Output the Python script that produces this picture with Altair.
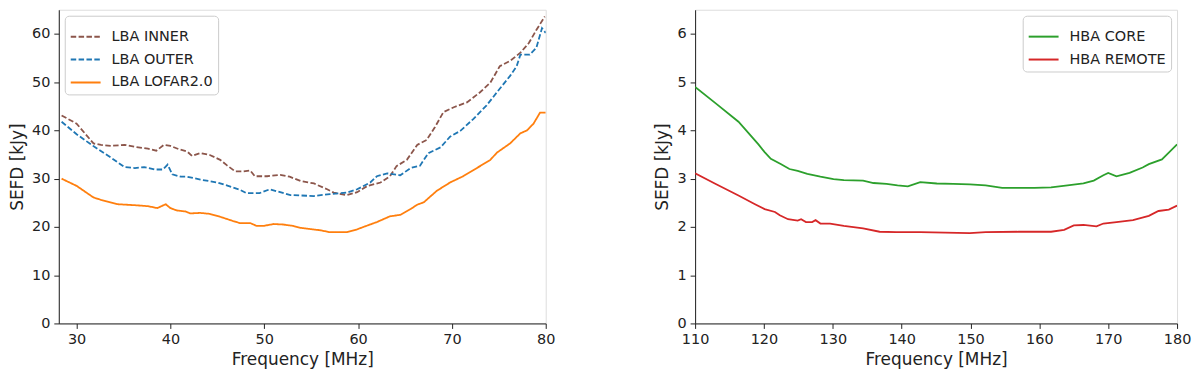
import altair as alt
import pandas as pd

# ---- LBA data ----
inner_f = [28.4, 30.0, 31.8, 32.6, 33.7, 35.1, 36.2, 37.6, 38.5, 39.3, 40.0, 40.9, 41.8, 42.3, 43.2, 44.2,
           45.3, 46.0, 46.9, 47.8, 48.5, 49.0, 50.3, 51.7, 52.7, 53.9, 55.3, 56.7, 57.4, 58.8, 59.9, 61.0,
           62.4, 63.4, 64.1, 65.2, 66.3, 67.3, 68.2, 69.1, 70.2, 71.6, 73.0, 74.1, 75.1, 76.2, 77.3, 78.2,
           79.0, 79.9]
inner_v = [43.1, 41.4, 37.3, 37.0, 36.8, 37.0, 36.6, 36.2, 35.8, 37.0, 36.8, 36.1, 35.6, 34.7, 35.3, 34.9,
           33.9, 32.8, 31.5, 31.5, 31.7, 30.5, 30.5, 30.8, 30.4, 29.5, 29.0, 27.8, 27.1, 26.6, 27.2, 28.5,
           29.2, 30.5, 32.6, 33.9, 37.0, 38.0, 40.7, 43.8, 44.8, 45.8, 47.9, 49.9, 53.3, 54.4, 56.1, 58.1,
           60.8, 63.6]

outer_f = [28.4, 30.0, 31.9, 33.7, 35.1, 36.2, 37.2, 38.3, 39.2, 39.7, 40.2, 41.1, 41.8, 43.2, 45.0, 46.0,
           47.4, 48.1, 49.5, 50.6, 51.7, 52.8, 55.3, 57.0, 58.8, 59.9, 61.3, 62.0, 63.1, 64.5, 65.6, 66.6,
           67.5, 68.8, 69.8, 70.9, 72.3, 73.7, 74.8, 76.2, 76.9, 77.3, 78.3, 79.0, 79.6, 80.0]
outer_v = [41.8, 39.2, 36.6, 34.3, 32.4, 32.2, 32.4, 31.9, 31.9, 32.9, 30.9, 30.4, 30.4, 29.8, 29.2, 28.6,
           27.7, 27.0, 27.0, 27.8, 27.2, 26.6, 26.4, 26.8, 27.1, 27.8, 29.2, 30.5, 31.1, 30.7, 32.2, 32.7,
           35.3, 36.5, 38.7, 39.9, 42.4, 45.2, 47.9, 51.3, 53.3, 55.7, 55.7, 57.1, 61.2, 60.2]

l2_f = [28.4, 30.0, 31.8, 32.6, 34.4, 36.2, 37.6, 38.6, 39.5, 40.0, 40.7, 41.6, 42.1, 43.2, 44.2, 45.3,
        46.7, 47.4, 48.5, 49.2, 49.9, 51.0, 52.0, 53.1, 53.9, 56.0, 57.0, 58.8, 59.9, 61.0, 62.0, 63.4,
        64.5, 65.6, 66.3, 67.0, 68.4, 69.8, 71.2, 73.0, 74.1, 74.8, 76.2, 77.3, 78.0, 78.7, 79.4, 80.0]
l2_v = [30.0, 28.5, 26.1, 25.6, 24.7, 24.5, 24.3, 23.9, 24.7, 23.9, 23.4, 23.2, 22.8, 22.9, 22.7, 22.1,
        21.2, 20.8, 20.8, 20.2, 20.2, 20.6, 20.5, 20.2, 19.8, 19.3, 18.9, 18.9, 19.5, 20.3, 21.0, 22.2,
        22.5, 23.7, 24.6, 25.1, 27.5, 29.2, 30.5, 32.6, 33.9, 35.4, 37.3, 39.4, 40.0, 41.4, 43.7, 43.7]

# ---- HBA data ----
core_f = [110.0, 113.0, 116.3, 119.2, 120.1, 121.0, 122.5, 123.7, 124.9, 126.3, 128.2, 130.1, 131.6, 134.4,
          135.9, 137.8, 139.4, 140.9, 142.7, 145.1, 147.5, 149.9, 152.2, 154.6, 157.0, 159.3, 161.7, 164.1,
          166.4, 167.9, 169.3, 170.0, 171.2, 173.1, 175.0, 175.9, 177.8, 178.8, 180.0]
core_v = [4.90, 4.56, 4.18, 3.71, 3.55, 3.41, 3.30, 3.20, 3.16, 3.10, 3.04, 2.99, 2.97, 2.96,
          2.91, 2.89, 2.86, 2.84, 2.93, 2.90, 2.89, 2.88, 2.86, 2.81, 2.81, 2.81, 2.82, 2.86,
          2.90, 2.96, 3.07, 3.12, 3.05, 3.12, 3.23, 3.30, 3.40, 3.54, 3.71]

remote_f = [110.0, 113.0, 116.3, 118.7, 120.1, 121.6, 122.3, 123.5, 124.9, 125.4, 126.1, 127.0, 127.5, 128.2,
            129.6, 131.6, 134.4, 136.8, 139.2, 142.7, 149.9, 152.2, 157.0, 161.7, 163.6, 165.0, 166.4, 168.3,
            169.3, 171.2, 173.6, 175.9, 177.3, 178.8, 180.0]
remote_v = [3.11, 2.89, 2.65, 2.47, 2.37, 2.31, 2.24, 2.16, 2.13, 2.16, 2.10, 2.10, 2.14, 2.07,
            2.07, 2.02, 1.97, 1.90, 1.89, 1.89, 1.87, 1.89, 1.90, 1.90, 1.94, 2.03, 2.04, 2.01,
            2.07, 2.10, 2.14, 2.23, 2.33, 2.36, 2.44]

lba_names = ["LBA INNER", "LBA OUTER", "LBA LOFAR2.0"]
lba_colors = ["#8c564b", "#1f77b4", "#ff7f0e"]
hba_names = ["HBA CORE", "HBA REMOTE"]
hba_colors = ["#2ca02c", "#d62728"]

def frame(fs, vs, name):
    return pd.DataFrame({"f": fs, "v": vs, "s": name, "o": range(len(fs))})

lba = pd.concat([frame(inner_f, inner_v, lba_names[0]),
                 frame(outer_f, outer_v, lba_names[1]),
                 frame(l2_f, l2_v, lba_names[2])])
hba = pd.concat([frame(core_f, core_v, hba_names[0]),
                 frame(remote_f, remote_v, hba_names[1])])

FONT = "DejaVu Sans"
W1, W2, H = 489, 484, 315

def axis_x(vals):
    return alt.Axis(values=vals, title="Frequency [MHz]", grid=False, tickSize=5,
                    labelFontSize=14.5, titleFontSize=17, titleFontWeight="normal",
                    labelColor="#222", titleColor="#222", domainColor="#222", tickColor="#222",
                    labelPadding=4, titlePadding=6, labelFlush=False)

def axis_y(vals):
    return alt.Axis(values=vals, title="SEFD [kJy]", grid=False, tickSize=5,
                    labelFontSize=14.5, titleFontSize=17, titleFontWeight="normal",
                    labelColor="#222", titleColor="#222", domainColor="#222", tickColor="#222",
                    labelPadding=4, titlePadding=5)

legend_common = dict(title=None, symbolType="stroke", symbolSize=900, symbolStrokeWidth=2,
                     labelFontSize=14.5, labelFont=FONT, labelColor="#222",
                     fillColor="white", strokeColor="#cccccc", cornerRadius=4,
                     padding=5, rowPadding=-8, offset=6, labelOffset=10)

left = alt.Chart(lba).mark_line(strokeWidth=1.8, clip=True).encode(
    x=alt.X("f:Q", scale=alt.Scale(domain=[28.1, 80], nice=False, zero=False), axis=axis_x([30, 40, 50, 60, 70, 80])),
    y=alt.Y("v:Q", scale=alt.Scale(domain=[0, 65], nice=False), axis=axis_y([0, 10, 20, 30, 40, 50, 60])),
    color=alt.Color("s:N", scale=alt.Scale(domain=lba_names, range=lba_colors),
                    legend=alt.Legend(orient="top-left", **legend_common)),
    strokeDash=alt.StrokeDash("s:N", scale=alt.Scale(domain=lba_names, range=[[5.5, 2.4], [5.5, 2.4], [1, 0]]),
                              legend=alt.Legend(orient="top-left", **legend_common)),
    order="o:Q",
).properties(width=W1, height=H)

right = alt.Chart(hba).mark_line(strokeWidth=1.8, clip=True).encode(
    x=alt.X("f:Q", scale=alt.Scale(domain=[110, 180], nice=False, zero=False), axis=axis_x([110, 120, 130, 140, 150, 160, 170, 180])),
    y=alt.Y("v:Q", scale=alt.Scale(domain=[0, 6.5], nice=False), axis=axis_y([0, 1, 2, 3, 4, 5, 6])),
    color=alt.Color("s:N", scale=alt.Scale(domain=hba_names, range=hba_colors),
                    legend=alt.Legend(orient="top-right", **legend_common)),
    order="o:Q",
).properties(width=W2, height=H)

chart = alt.hconcat(left, right, spacing=98).resolve_scale(
    x="independent", y="independent", color="independent", strokeDash="independent"
).resolve_legend(color="independent", strokeDash="independent").properties(
    padding={"left": 0, "top": 0, "right": 0, "bottom": 0}
).configure_view(stroke="#222", strokeWidth=1).configure(font=FONT)

chart.save("out.html", embed_options={"renderer": "svg", "actions": False})
